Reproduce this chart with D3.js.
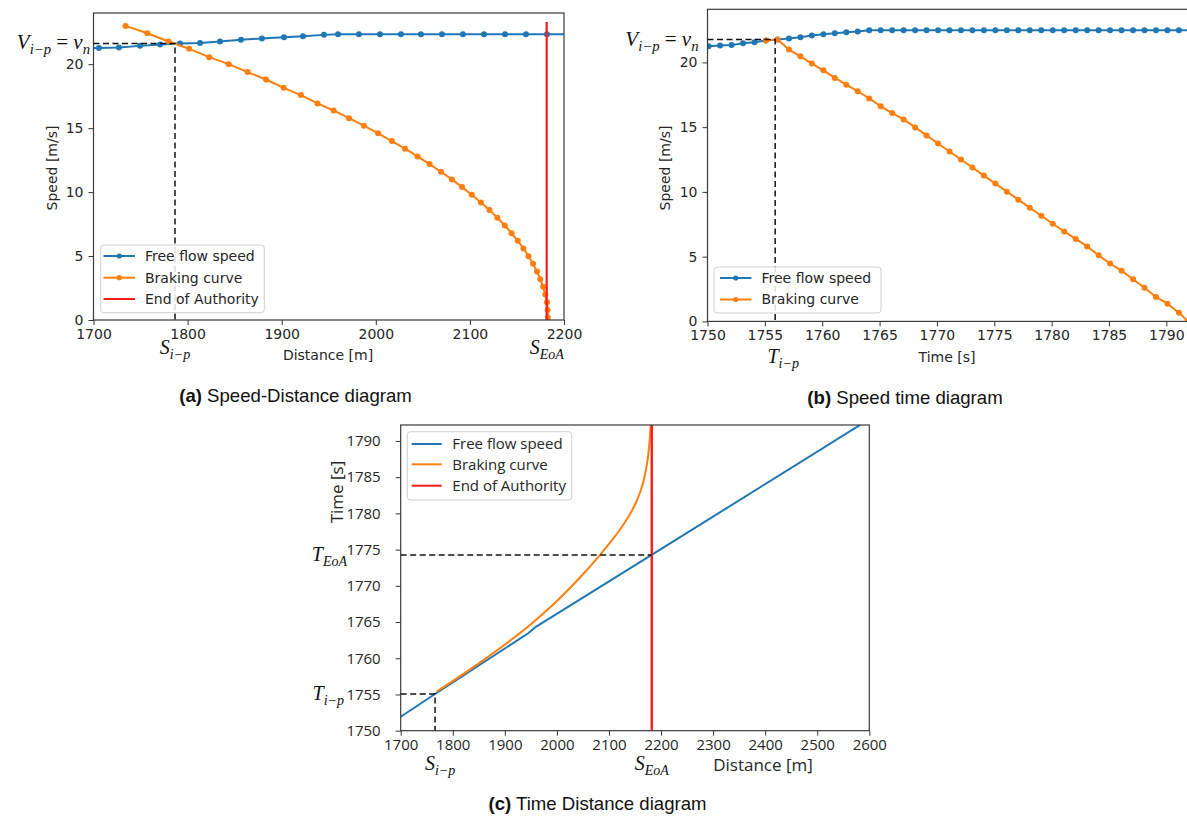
<!DOCTYPE html>
<html><head><meta charset="utf-8">
<script src="https://cdn.jsdelivr.net/npm/d3@7"></script>
<style>body{margin:0;background:#fff} svg{display:block}</style>
</head><body><svg id="fig" width="1187" height="816"></svg>
<script>
// ---------------- DATA ----------------
// (a) Speed-Distance: [distance m, speed m/s]
const freeFlowA = [[1684.5,21.24],[1705.8,21.27],[1727.0,21.30],[1749.4,21.43],[1770.7,21.54],[1791.9,21.62],[1813.2,21.66],[1834.4,21.77],[1856.7,21.90],[1879.0,22.01],[1902.4,22.11],[1922.6,22.19],[1944.9,22.29],[1959.8,22.34],[1982.1,22.34],[2004.4,22.34],[2026.7,22.34],[2048.0,22.34],[2070.3,22.34],[2092.6,22.34],[2115.0,22.34],[2137.3,22.34],[2159.6,22.34],[2181.9,22.34],[2204.2,22.34]];
const brakingA = [[1734.1,22.99],[1757.2,22.42],[1779.8,21.77],[1801.7,21.20],[1823.0,20.55],[1843.7,20.00],[1863.8,19.38],[1883.3,18.80],[1902.1,18.15],[1920.4,17.58],[1938.0,16.93],[1955.1,16.38],[1971.5,15.78],[1987.3,15.19],[2002.5,14.59],[2017.1,13.99],[2031.0,13.39],[2044.4,12.79],[2057.1,12.19],[2069.3,11.59],[2080.8,10.99],[2091.7,10.39],[2102.0,9.79],[2111.7,9.19],[2120.8,8.59],[2129.2,7.99],[2137.1,7.39],[2144.3,6.79],[2150.9,6.19],[2156.9,5.59],[2162.3,4.99],[2167.1,4.39],[2171.3,3.79],[2174.8,3.19],[2177.8,2.59],[2180.1,1.99],[2181.9,1.39],[2182.6,0.79],[2182.9,0.19]];
const eoaA = [[2181.6,0],[2181.6,23.3]];
const crossA = [1786.6, 21.62];          // S_i-p , V_i-p
const xTicksA = [1700,1800,1900,2000,2100,2200];
const yTicksA = [0,5,10,15,20];

// (b) Speed-Time: [time s, speed m/s]
const freeFlowB = [[1749.1,21.22],[1750.1,21.25],[1751.1,21.30],[1752.1,21.35],[1753.1,21.48],[1754.1,21.55],[1755.1,21.69],[1756.1,21.76],[1757.1,21.84],[1758.1,21.94],[1759.1,22.07],[1760.1,22.17],[1761.1,22.25],[1762.1,22.33],[1763.1,22.38],[1764.1,22.48],[1765.1,22.48],[1766.1,22.48],[1767.1,22.48],[1768.1,22.48],[1769.1,22.48],[1770.1,22.48],[1771.1,22.48],[1772.1,22.48],[1773.1,22.48],[1774.1,22.48],[1775.1,22.48],[1776.1,22.48],[1777.1,22.48],[1778.1,22.48],[1779.1,22.48],[1780.1,22.48],[1781.1,22.48],[1782.1,22.48],[1783.1,22.48],[1784.1,22.48],[1785.1,22.48],[1786.1,22.48],[1787.1,22.48],[1788.1,22.48],[1789.1,22.48],[1790.1,22.48],[1791.1,22.48],[1792.1,22.48]];
const brakingB = [[1755.1,21.69],[1756.1,21.76],[1757.1,20.99],[1758.1,20.47],[1759.1,19.91],[1760.1,19.39],[1761.1,18.80],[1762.1,18.28],[1763.1,17.77],[1764.1,17.22],[1765.1,16.61],[1766.1,16.09],[1767.1,15.60],[1768.1,14.98],[1769.1,14.36],[1770.1,13.74],[1771.1,13.12],[1772.1,12.50],[1773.1,11.88],[1774.1,11.26],[1775.1,10.64],[1776.1,10.02],[1777.1,9.40],[1778.1,8.78],[1779.1,8.16],[1780.1,7.54],[1781.1,6.94],[1782.1,6.37],[1783.1,5.79],[1784.1,5.10],[1785.1,4.47],[1786.1,3.92],[1787.1,3.26],[1788.1,2.60],[1789.1,1.89],[1790.1,1.37],[1791.1,0.66],[1791.9,0.0]];
const crossB = [1755.9, 21.76];          // T_i-p , V_i-p
const xTicksB = [1750,1755,1760,1765,1770,1775,1780,1785,1790];
const yTicksB = [0,5,10,15,20];

// (c) Time-Distance: [distance m, time s]
const freeFlowC = [[1700,1751.93],[1766,1755.07],[1945,1763.45],[1958,1764.25],[2182,1774.27],[2600,1793.0]];
const brakingC = [[1769,1755.4],[1850,1759.3],[1950,1764.7],[2000,1767.9],[2050,1771.6],[2085,1774.45],[2097,1775.5],[2108,1776.5],[2118.5,1777.5],[2128.2,1778.5],[2137,1779.5],[2145,1780.5],[2151.8,1781.5],[2157.7,1782.5],[2162.5,1783.5],[2166.4,1784.5],[2169.6,1785.5],[2172.2,1786.5],[2174.3,1787.5],[2176.0,1788.5],[2177.4,1789.5],[2178.6,1790.5],[2179.6,1791.5],[2180.4,1792.5]];
const eoaC = [[2182.2,1745],[2182.2,1800]];
const markIpC = [1766, 1755.07];         // S_i-p , T_i-p
const markEoaC = [2182.2, 1774.27];      // S_EoA , T_EoA
const xTicksC = [1700,1800,1900,2000,2100,2200,2300,2400,2500,2600];
const yTicksC = [1750,1755,1760,1765,1770,1775,1780,1785,1790];

const legendLabels = ["Free flow speed","Braking curve","End of Authority"];
const colors = {blue:"#1f77b4", orange:"#ff7f0e", red:"#ff1a1a"};

// ---------------- DRAW ----------------
const svg = d3.select("#fig");
svg.append("rect").attr("width",1187).attr("height",816).attr("fill","#fff");
const MPL = "DejaVu Sans", SEG = "'Open Sans'", SERIF = "'Liberation Serif'";
const TXT = "#262626";

function mathLabel(x, y, anchor, parts, size) {
  const t = svg.append("text").attr("x",x).attr("y",y).attr("text-anchor",anchor)
    .attr("font-family",SERIF).attr("font-size",size).attr("fill","#111");
  let shift = 0;
  parts.forEach(p => {
    const ts = t.append("tspan").text(p.t);
    if (p.italic !== false) ts.attr("font-style","italic");
    if (p.sub) { ts.attr("font-size", size*0.7).attr("dy", 5 - shift); shift = 5; }
    else { ts.attr("dy", -shift); shift = 0; }
  });
  return t;
}

function panel(id, x, y, xTicks, yTicks, opts) {
  const g = svg.append("g");
  const [x0,x1] = x.range(), [y0,y1] = y.range();
  svg.append("clipPath").attr("id",id).append("rect")
    .attr("x",x0).attr("y",y1).attr("width",x1-x0).attr("height",y0-y1);
  const xa = g.append("g").attr("transform",`translate(0,${y0})`)
    .call(d3.axisBottom(x).tickValues(xTicks).tickSize(5).tickPadding(opts.xpad).tickFormat(d3.format("d")));
  const ya = g.append("g").attr("transform",`translate(${x0},0)`)
    .call(d3.axisLeft(y).tickValues(yTicks).tickSize(5).tickPadding(opts.ypad).tickFormat(d3.format("d")));
  [xa,ya].forEach(a => {
    a.select(".domain").remove();
    a.selectAll("line").attr("stroke","#333").attr("stroke-width",1);
    a.selectAll("text").attr("font-family",opts.font).attr("font-size",opts.tick).attr("fill",TXT);
  });
  const plot = g.append("g").attr("clip-path",`url(#${id})`);
  const frame = g.append("rect").attr("x",x0).attr("y",y1).attr("width",x1-x0).attr("height",y0-y1)
    .attr("fill","none").attr("stroke","#3a3a3a").attr("stroke-width",1.2);
  return {g, plot, frame};
}

function series(plot, x, y, data, color, markers, width) {
  plot.append("path").datum(data).attr("fill","none").attr("stroke",color)
    .attr("stroke-width",width||2).attr("stroke-linejoin","round")
    .attr("d", d3.line().x(d=>x(d[0])).y(d=>y(d[1])));
  if (markers) plot.selectAll(null).data(data).join("circle")
    .attr("cx",d=>x(d[0])).attr("cy",d=>y(d[1])).attr("r",3).attr("fill",color);
}

function legend(bx, by, bw, bh, items, font, size, lx0, lx1, tx, rows) {
  svg.append("rect").attr("x",bx).attr("y",by).attr("width",bw).attr("height",bh).attr("rx",3)
    .attr("fill","#fff").attr("fill-opacity",0.85).attr("stroke","#d0d0d0").attr("stroke-width",1);
  items.forEach((it,i) => {
    const yy = rows[i];
    svg.append("line").attr("x1",lx0).attr("x2",lx1).attr("y1",yy).attr("y2",yy)
      .attr("stroke",it.color).attr("stroke-width",2);
    if (it.marker) svg.append("circle").attr("cx",(lx0+lx1)/2).attr("cy",yy).attr("r",2.6).attr("fill",it.color);
    svg.append("text").attr("x",tx).attr("y",yy).attr("dy","0.35em").attr("font-family",font)
      .attr("font-size",size).attr("fill",TXT).text(it.label);
  });
}
function dashed(pts, x, y) {
  svg.append("path").datum(pts).attr("fill","none").attr("stroke","#111").attr("stroke-width",1.5)
    .attr("stroke-dasharray","6,3.5").attr("d", d3.line().x(d=>x(d[0])).y(d=>y(d[1])));
}
function label(x, y, txt, font, size, anchor, rot) {
  const t = svg.append("text").attr("font-family",font).attr("font-size",size).attr("fill",TXT)
    .attr("text-anchor",anchor||"middle").text(txt);
  if (rot) t.attr("transform",`translate(${x},${y}) rotate(-90)`).attr("dy","0.35em");
  else t.attr("x",x).attr("y",y);
}
function caption(cx, y, bold, rest) {
  const t = svg.append("text").attr("x",cx).attr("y",y).attr("text-anchor","middle")
    .attr("font-family","'Liberation Sans', Arial").attr("font-size",18.6).attr("fill","#111");
  t.append("tspan").attr("font-weight","bold").text(bold);
  t.append("tspan").text(" " + rest);
}

// ----- (a) -----
{
  const x = d3.scaleLinear([1700,2200],[93.5,564]);
  const y = d3.scaleLinear([0,24],[320,13]);
  const p = panel("clipA", x, y, xTicksA, yTicksA, {font:MPL, tick:14, xpad:4, ypad:5});
  series(p.plot, x, y, freeFlowA, colors.blue, true);
  series(p.plot, x, y, brakingA, colors.orange, true);
  series(p.plot, x, y, eoaA, colors.red, false, 2.2);
  dashed([[1700,crossA[1]],[crossA[0],crossA[1]],[crossA[0],0]], x, y);
  legend(100.7,245,163.6,67.7,[
    {label:legendLabels[0],color:colors.blue,marker:true},
    {label:legendLabels[1],color:colors.orange,marker:true},
    {label:legendLabels[2],color:colors.red,marker:false}], MPL, 14, 103.5, 135, 145, [256,277.7,299]);
  label(328, 360, "Distance [m]", MPL, 14);
  label(52, 168, "Speed [m/s]", MPL, 14, "middle", true);
  mathLabel(90, y(crossA[1])+6, "end", [{t:"V"},{t:"i−p",sub:true},{t:" = ",italic:false},{t:"v"},{t:"n",sub:true}], 21);
  mathLabel(x(crossA[0]), 354, "middle", [{t:"S"},{t:"i−p",sub:true}], 20);
  mathLabel(x(eoaA[0][0]), 354, "middle", [{t:"S"},{t:"EoA",sub:true}], 20);
  caption(295.5, 402, "(a)", "Speed-Distance diagram");
}

// ----- (b) -----
{
  const x = d3.scaleLinear([1750,1792],[707.5,707.5+42*11.47]);
  const y = d3.scaleLinear([0,24.1],[321.4,9.3]);
  const p = panel("clipB", x, y, xTicksB, yTicksB, {font:MPL, tick:14, xpad:4, ypad:5});
  series(p.plot, x, y, freeFlowB, colors.blue, true);
  series(p.plot, x, y, brakingB, colors.orange, true);
  dashed([[1750,crossB[1]],[crossB[0],crossB[1]],[crossB[0],0]], x, y);
  legend(714,267,167,46,[
    {label:legendLabels[0],color:colors.blue,marker:true},
    {label:legendLabels[1],color:colors.orange,marker:true}], MPL, 14, 720, 751.5, 761.5, [278,299.5]);
  label(947, 362, "Time [s]", MPL, 14);
  label(665, 168, "Speed [m/s]", MPL, 14, "middle", true);
  mathLabel(698.5, y(crossB[1])+6, "end", [{t:"V"},{t:"i−p",sub:true},{t:" = ",italic:false},{t:"v"},{t:"n",sub:true}], 21);
  mathLabel(x(crossB[0])+8, 363, "middle", [{t:"T"},{t:"i−p",sub:true}], 20);
  caption(905, 404, "(b)", "Speed time diagram");
}

// ----- (c) -----
{
  const x = d3.scaleLinear([1700,2600],[400.7,869.3]);
  const y = d3.scaleLinear([1750,1792.2],[730.7,425]);
  const p = panel("clipC", x, y, xTicksC, yTicksC, {font:SEG, tick:15, xpad:4, ypad:15});
  series(p.plot, x, y, freeFlowC, colors.blue, false, 2);
  p.plot.append("path").datum(brakingC).attr("fill","none").attr("stroke",colors.orange).attr("stroke-width",2)
    .attr("d", d3.line().curve(d3.curveMonotoneX).x(d=>x(d[0])).y(d=>y(d[1])));
  series(p.plot, x, y, eoaC, colors.red, false, 2.4);
  dashed([[1700,markIpC[1]],[markIpC[0],markIpC[1]],[markIpC[0],1750]], x, y);
  dashed([[1700,markEoaC[1]],[markEoaC[0],markEoaC[1]]], x, y);
  legend(407.3,431.7,164.4,68.3,[
    {label:legendLabels[0],color:colors.blue},
    {label:legendLabels[1],color:colors.orange},
    {label:legendLabels[2],color:colors.red}], SEG, 15, 411.7, 441.7, 452.3, [444,464.3,485.7]);
  label(763, 771, "Distance [m]", SEG, 17);
  label(337, 492, "Time [s]", SEG, 17, "middle", true);
  mathLabel(344, y(markIpC[1])+6, "end", [{t:"T"},{t:"i−p",sub:true}], 20);
  mathLabel(347, y(markEoaC[1])+6, "end", [{t:"T"},{t:"EoA",sub:true}], 20);
  mathLabel(x(markIpC[0])+5, 770, "middle", [{t:"S"},{t:"i−p",sub:true}], 20);
  mathLabel(x(markEoaC[0]), 770, "middle", [{t:"S"},{t:"EoA",sub:true}], 20);
  caption(597.5, 810, "(c)", "Time Distance diagram");
}
</script></body></html>
